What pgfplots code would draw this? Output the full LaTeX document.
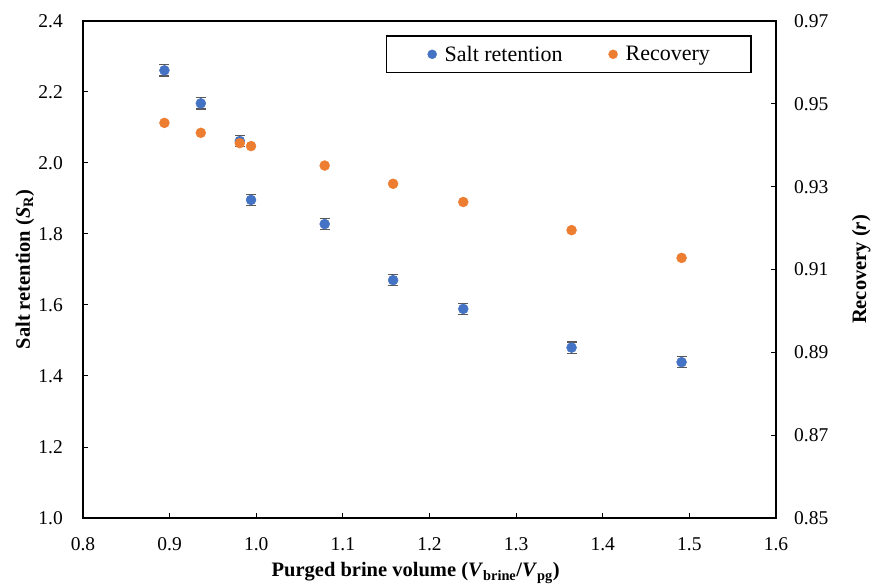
\documentclass[border=0pt]{standalone}
\usepackage{fontspec}
\setmainfont{Liberation Serif}
\usepackage{pgfplots}
\usepackage{pgfplotstable}
\pgfplotsset{compat=1.18}
\definecolor{sblue}{RGB}{68,114,196}
\definecolor{sorange}{RGB}{237,125,49}
\definecolor{ebar}{RGB}{89,89,89}

\pgfplotstableread{
x y e
0.894 2.261 0.016
0.936 2.168 0.016
0.981 2.062 0.016
0.994 1.896 0.016
1.079 1.828 0.016
1.158 1.670 0.016
1.239 1.589 0.016
1.364 1.480 0.016
1.491 1.439 0.016
}\saltdata

\pgfplotstableread{
x y
0.894 0.9454
0.936 0.9430
0.981 0.9405
0.994 0.9398
1.079 0.9351
1.158 0.9307
1.239 0.9263
1.364 0.9195
1.491 0.9128
}\recdata

\begin{document}
\begin{tikzpicture}
\useasboundingbox (-83bp,-70bp) rectangle (794bp,518bp);
\pgfplotsset{
  every axis/.append style={
    scale only axis, width=693bp, height=497bp,
    at={(0,0)}, anchor=south west,
    xmin=0.8, xmax=1.6,
    axis line style={line width=1.3bp},
    tick align=inside, major tick length=5bp,
    tick style={line width=1bp, black},
    tick label style={font=\fontsize{19.5bp}{23bp}\selectfont, inner sep=0pt},
    /pgf/number format/assume math mode=true,
    label style={font=\bfseries\fontsize{20.5bp}{24bp}\selectfont},
  },
}
\begin{axis}[
  ymin=1.0, ymax=2.4,
  xtick={0.8,0.9,1.0,1.1,1.2,1.3,1.4,1.5,1.6},
  ytick={1.0,1.2,1.4,1.6,1.8,2.0,2.2,2.4},
  xtick pos=bottom, ytick pos=left,
  xticklabel style={/pgf/number format/.cd, fixed, fixed zerofill, precision=1},
  yticklabel style={/pgf/number format/.cd, fixed, fixed zerofill, precision=1},
  xticklabel shift=19bp, yticklabel shift=20bp,
  xlabel={Purged brine volume (\textit{V}\textsubscript{brine}/\textit{V}\textsubscript{pg})},
  ylabel={Salt retention (\textit{S}\textsubscript{R})},
  xlabel style={at={(axis description cs:0.48,-0.1187)}, anchor=base},
  ylabel style={at={(axis description cs:-0.0765,0.5)}, anchor=base},
  legend columns=2,
  legend cell align=left,
  legend image code/.code={\draw[#1, line width=0.4bp, mark size=4.5bp] plot coordinates {(0bp,0bp)};},
  legend style={at={(axis description cs:0.701,0.933)}, anchor=center,
    draw=black, line width=1.3bp,
    font=\fontsize{22bp}{26bp}\selectfont,
    inner xsep=41bp, inner ysep=10bp,
    nodes={inner sep=0pt},
    /tikz/every odd column/.append style={column sep=8bp},
    /tikz/every even column/.append style={column sep=46bp}},
]
\addplot[only marks, mark=*, mark size=5bp, color=sblue,
  mark options={fill=sblue, draw=sblue, line width=0.4bp},
  error bars/.cd, y dir=both, y explicit,
  error bar style={ebar, line width=1.3bp},
  error mark options={rotate=90, mark size=5bp, ebar, line width=1.3bp}]
  table[x=x, y=y, y error=e]{\saltdata};
\addlegendentry{Salt retention}
\addlegendimage{only marks, mark=*, color=sorange, mark options={fill=sorange, draw=sorange}}
\addlegendentry{Recovery}
\end{axis}
\begin{axis}[
  ymin=0.85, ymax=0.97,
  axis x line=none, axis y line*=right,
  ytick={0.85,0.87,0.89,0.91,0.93,0.95,0.97},
  yticklabel style={/pgf/number format/.cd, fixed, fixed zerofill, precision=2},
  yticklabel shift=18bp,
  ylabel={Recovery (\textit{r})},
  ylabel style={at={(axis description cs:1.1299,0.5)}, anchor=base},
]
\addplot[only marks, mark=*, mark size=5bp, color=sorange,
  mark options={fill=sorange, draw=sorange, line width=0.4bp}]
  table[x=x, y=y]{\recdata};
\end{axis}
\end{tikzpicture}
\end{document}
